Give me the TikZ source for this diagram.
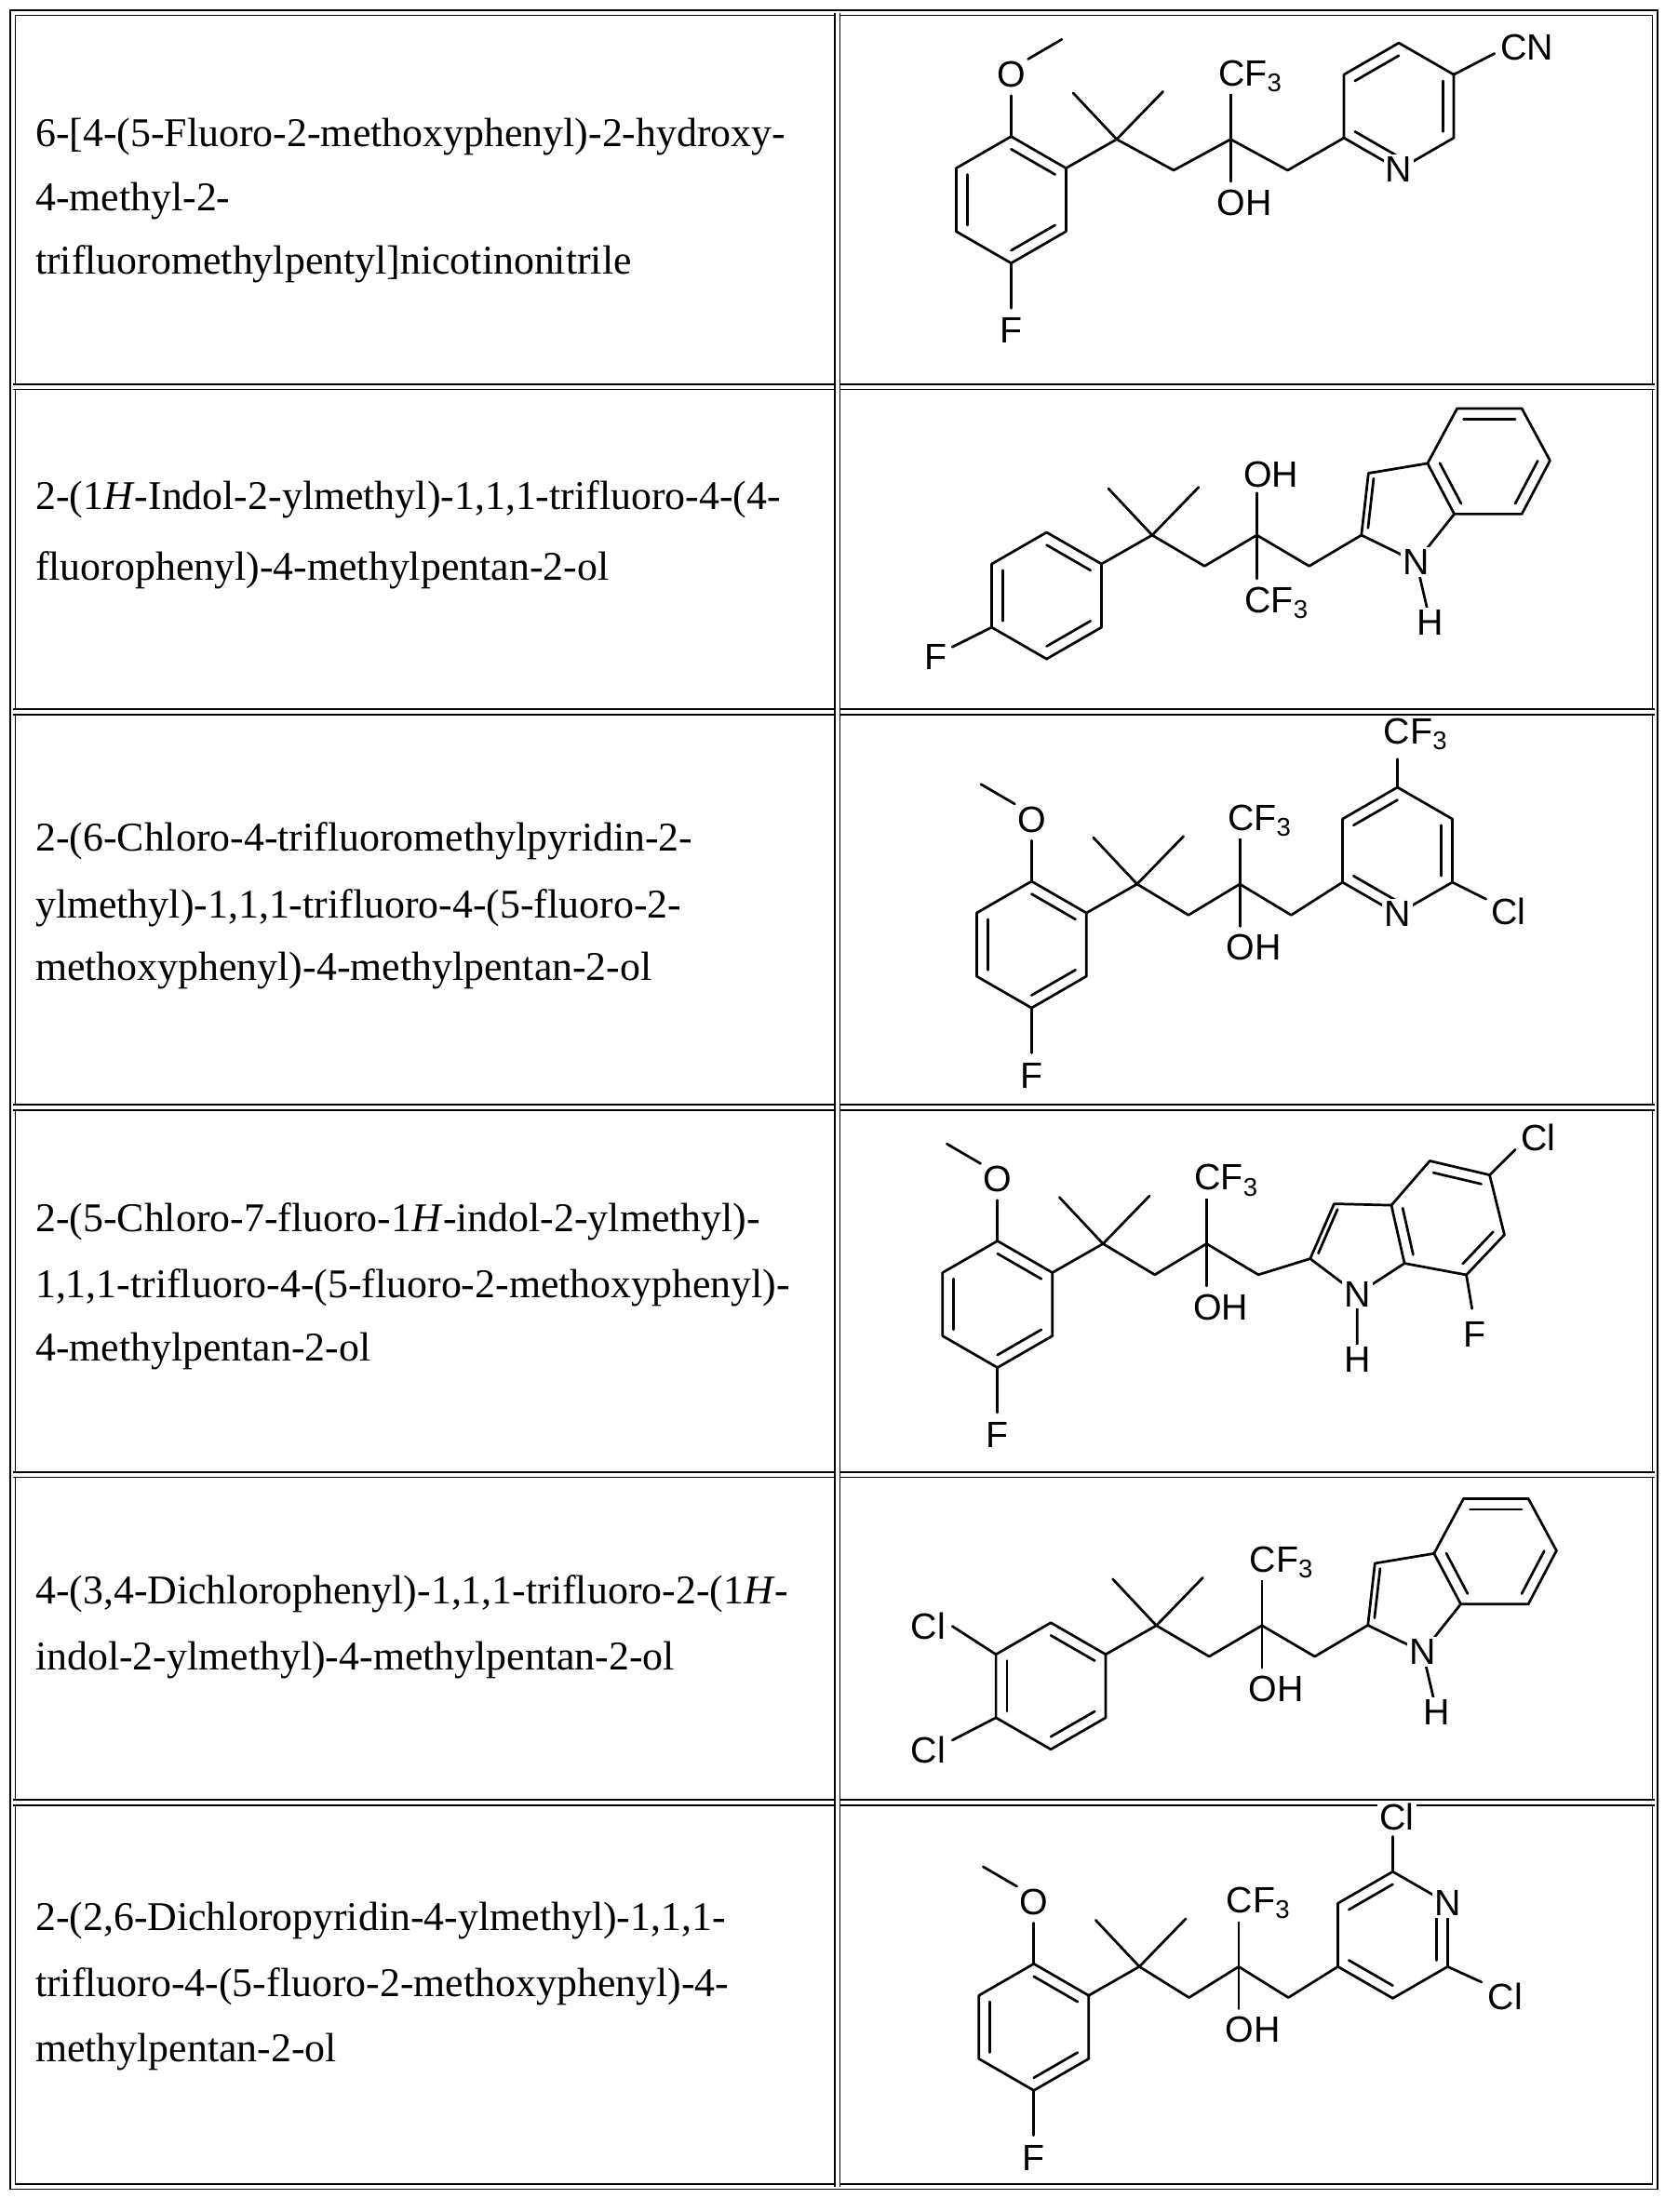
\documentclass[tikz,border=0pt]{standalone}
\usepackage{fontspec}
\setmainfont{Liberation Serif}
\newfontfamily\chemfont{Liberation Sans}
\usetikzlibrary{calc}
\newcommand\hexa[2]{%
 \coordinate (#11) at ($(#2)+(0,-45)$);
 \coordinate (#12) at ($(#2)+(39,-22.5)$);
 \coordinate (#13) at ($(#2)+(39,22.5)$);
 \coordinate (#14) at ($(#2)+(0,45)$);
 \coordinate (#15) at ($(#2)+(-39,22.5)$);
 \coordinate (#16) at ($(#2)+(-39,-22.5)$);}
\newcommand\inner[3]{\draw[bond] ($(#1)!.2!(#3)$)--($(#2)!.2!(#3)$);}
\newcommand\core[5]{%
 \coordinate (q) at (#1,#2);
 \coordinate (m1) at ($(q)+(-31,-33)$);
 \coordinate (m2) at ($(q)+(33,-34)$);
 \coordinate (a) at ($(q)+(#3,22)$);
 \coordinate (c) at ($(q)+(2*#3,0)$);
 \coordinate (b) at ($(q)+(3*#3,22)$);
 \coordinate (P) at ($(q)+(-75,43)$);
 \hexa{P}{P}
 \draw[bond] (P1)--(P2)--(P3)--(P4)--(P5)--(P6)--cycle;
 \inner{P1}{P2}{P}\inner{P5}{P6}{P}\inner{P3}{P4}{P}
 \draw[bond] (P2)--(q)--(a)--(c)--(b)--(t) (m1)--(q)--(m2);
 \ifnum#4=1
  \draw[bond] (c)--($(c)+(0,-33)$) (c)--($(c)+(0,30)$);
  \node[lab] (cf#5) at ($(c)+(14,-45)$) {CF\textsubscript{3}};
  \node[lab] (oh#5) at ($(c)+(10,45)$) {OH};
 \else
  \draw[bond] (c)--($(c)+(0,-30)$) (c)--($(c)+(0,31)$);
  \node[lab] (oh#5) at ($(c)+(10,-43)$) {OH};
  \node[lab] (cf#5) at ($(c)+(14,48)$) {CF\textsubscript{3}};
 \fi}
\newcommand\ome[2]{%
 \draw[bond] (P1)--($(P1)+(0,-29)$);
 \node[lab] (o#1) at ($(P1)+(0,-44)$) {O};
 \draw[bond] ($(o#1)+(#2*12,-11)$)--($(o#1)+(#2*36,-25)$);}
\newcommand\pfl[1]{\draw[bond] (P4)--($(P4)+(0,32)$); \node[lab] (f#1) at ($(P4)+(0,48)$) {F};}
\newcommand\indoleA[1]{%
 \coordinate (i3) at ($(t)+(5,-44)$); \coordinate (i3a) at ($(t)+(47,-51)$);
 \coordinate (i7a) at ($(t)+(66,-15)$); \coordinate (iN) at ($(t)+(39,19)$);
 \coordinate (i4) at ($(t)+(68,-90)$); \coordinate (i5) at ($(t)+(114,-90)$);
 \coordinate (i6) at ($(t)+(134,-53)$); \coordinate (i7) at ($(t)+(114,-15)$);
 \coordinate (iH) at ($(t)+(49,62)$);}
\begin{document}
\begin{tikzpicture}[x=1pt,y=-1pt,
 bond/.style={line width=1.8pt,line join=round,line cap=round},
 lab/.style={font=\chemfont\fontsize{26}{26}\selectfont,inner sep=1.5pt,fill=white},
 nm/.style={font=\fontsize{29}{34}\selectfont,anchor=west,inner sep=0pt},
 rule/.style={double,double distance=2.6pt,line width=1.1pt}]
\useasboundingbox (0,0) rectangle (1183,1572);
\fill[white] (0,0) rectangle (1183,1572);
% table
\draw[rule] (9,9) rectangle (1176,1554);
\foreach \yy in {275,506,787,1048,1281} \draw[rule] (9,\yy)--(1176,\yy);
\draw[rule] (595,9)--(595,1554);
% names
\node[nm] (n1a) at (25,97) {6-[4-(5-Fluoro-2-methoxyphenyl)-2-hydroxy-};
\node[nm] (n1b) at (25,143) {4-methyl-2-};
\node[nm] (n1c) at (25,188) {trifluoromethylpentyl]nicotinonitrile};
\node[nm] (n2a) at (25,355) {2-(1\textit{H}-Indol-2-ylmethyl)-1,1,1-trifluoro-4-(4-};
\node[nm] (n2b) at (25,405) {fluorophenyl)-4-methylpentan-2-ol};
\node[nm] (n3a) at (25,598) {2-(6-Chloro-4-trifluoromethylpyridin-2-};
\node[nm] (n3b) at (25,645) {ylmethyl)-1,1,1-trifluoro-4-(5-fluoro-2-};
\node[nm] (n3c) at (25,690) {methoxyphenyl)-4-methylpentan-2-ol};
\node[nm] (n4a) at (25,868) {2-(5-Chloro-7-fluoro-1\textit{H}-indol-2-ylmethyl)-};
\node[nm] (n4b) at (25,915) {1,1,1-trifluoro-4-(5-fluoro-2-methoxyphenyl)-};
\node[nm] (n4c) at (25,960) {4-methylpentan-2-ol};
\node[nm] (n5a) at (25,1133) {4-(3,4-Dichlorophenyl)-1,1,1-trifluoro-2-(1\textit{H}-};
\node[nm] (n5b) at (25,1180) {indol-2-ylmethyl)-4-methylpentan-2-ol};
\node[nm] (n6a) at (25,1365) {2-(2,6-Dichloropyridin-4-ylmethyl)-1,1,1-};
\node[nm] (n6b) at (25,1412) {trifluoro-4-(5-fluoro-2-methoxyphenyl)-4-};
\node[nm] (n6c) at (25,1458) {methylpentan-2-ol};
% ---------- row 1
\coordinate (t) at (955,98);
\core{793.5}{99}{40.5}{1}{1}
\ome{1}{1}\pfl{1}
\coordinate (Q) at ($(t)+(39,-22.5)$); \hexa{Q}{Q}
\draw[bond] (Q1)--(Q2)--(Q3)--(Q4)--(Q5)--(Q6)--cycle;
\inner{Q6}{Q1}{Q}\inner{Q2}{Q3}{Q}\inner{Q5}{Q4}{Q}
\draw[bond] (Q2)--($(Q2)+(29,-15)$);
\node[lab] (nn1) at (Q4) {N};
\node[lab] (cn1) at ($(Q2)+(52,-19)$) {CN};
% ---------- row 2
\coordinate (t) at (967.4,380.3);
\core{818.7}{380.3}{37.2}{0}{2}
\draw[bond] (P5)--($(P5)+(-28,14)$);
\node[lab] (f2) at ($(P5)+(-40,21)$) {F};
\indoleA{2}
\draw[bond] (t)--(i3)--(i3a)--(i7a)--(iN)--cycle (i3a)--(i4)--(i5)--(i6)--(i7)--(i7a) (iN)--(iH);
\coordinate (fc) at ($(t)!.5!(i3a)$); \coordinate (bc) at ($(i3a)!.5!(i6)$);
\inner{t}{i3}{fc}\inner{i3a}{i7a}{bc}\inner{i4}{i5}{bc}\inner{i6}{i7}{bc}
\node[lab] (nn2) at (iN) {N}; \node[lab] (h2) at (iH) {H};
% ---------- row 3
\coordinate (t) at (954,627);
\core{808}{628.3}{36.5}{1}{3}
\ome{3}{-1}\pfl{3}
\coordinate (Q) at ($(t)+(39,-22.5)$); \hexa{Q}{Q}
\draw[bond] (Q1)--(Q2)--(Q3)--(Q4)--(Q5)--(Q6)--cycle;
\inner{Q6}{Q1}{Q}\inner{Q2}{Q3}{Q}\inner{Q5}{Q4}{Q}
\draw[bond] (Q3)--($(Q3)+(24,12)$) (Q1)--($(Q1)+(0,-20)$);
\node[lab] (nn3) at (Q4) {N};
\node[lab] (cl3) at ($(Q3)+(40,21)$) {Cl};
\node[lab] (cfb3) at ($(Q1)+(13,-38)$) {CF\textsubscript{3}};
% ---------- row 4
\coordinate (t) at (931,894.5);
\core{783.8}{883.9}{36.8}{1}{4}
\ome{4}{-1}\pfl{4}
\coordinate (i3) at ($(t)+(17,-39)$); \coordinate (i3a) at ($(t)+(57.7,-38)$);
\coordinate (i7a) at ($(t)+(67,3.3)$); \coordinate (iN) at ($(t)+(33.4,25.2)$);
\coordinate (iH) at ($(t)+(33.4,71.4)$);
\coordinate (i4) at ($(t)+(85,-69.5)$); \coordinate (i5) at ($(t)+(127.5,-59.5)$);
\coordinate (i6) at ($(t)+(138,-17)$); \coordinate (i7) at ($(t)+(111,11.5)$);
\draw[bond] (t)--(i3)--(i3a)--(i7a)--(iN)--cycle (i3a)--(i4)--(i5)--(i6)--(i7)--(i7a) (iN)--(iH);
\draw[bond] (i5)--($(t)+(145.7,-77.5)$) (i7)--($(t)+(115,35.5)$);
\coordinate (fc) at ($(t)!.5!(i3a)$); \coordinate (bc) at ($(i3a)!.5!(i6)$);
\inner{t}{i3}{fc}\inner{i3a}{i7a}{bc}\inner{i4}{i5}{bc}\inner{i6}{i7}{bc}
\node[lab] (nn4) at (iN) {N}; \node[lab] (h4) at (iH) {H};
\node[lab] (cl4) at ($(t)+(162,-86)$) {Cl};
\node[lab] (fi4) at ($(t)+(117,54)$) {F};
% ---------- row 5
\coordinate (t) at (972,1155);
\core{821.7}{1155.2}{37.5}{1}{5}
\draw[bond] (P6)--($(P6)+(-31,-20)$) (P5)--($(P5)+(-31,16)$);
\node[lab] (cla5) at ($(P6)+(-48,-20)$) {Cl};
\node[lab] (clb5) at ($(P5)+(-48,23)$) {Cl};
\indoleA{5}
\draw[bond] (t)--(i3)--(i3a)--(i7a)--(iN)--cycle (i3a)--(i4)--(i5)--(i6)--(i7)--(i7a) (iN)--(iH);
\coordinate (fc) at ($(t)!.5!(i3a)$); \coordinate (bc) at ($(i3a)!.5!(i6)$);
\inner{t}{i3}{fc}\inner{i3a}{i7a}{bc}\inner{i4}{i5}{bc}\inner{i6}{i7}{bc}
\node[lab] (nn5) at (iN) {N}; \node[lab] (h5) at (iH) {H};
% ---------- row 6
\coordinate (t) at (950.7,1397.6);
\core{809.6}{1397.6}{35.3}{1}{6}
\ome{6}{-1}\pfl{6}
\coordinate (Q) at ($(t)+(39,-22.5)$); \hexa{Q}{Q}
\draw[bond] (Q1)--(Q2)--(Q3)--(Q4)--(Q5)--(Q6)--cycle;
\inner{Q6}{Q1}{Q}\inner{Q2}{Q3}{Q}\inner{Q5}{Q4}{Q}
\draw[bond] (Q1)--($(Q1)+(0,-25)$) (Q3)--($(Q3)+(24,11)$);
\node[lab] (nn6) at (Q2) {N};
\node[lab] (cla6) at ($(Q1)+(3,-39)$) {Cl};
\node[lab] (clb6) at ($(Q3)+(41,21)$) {Cl};
\end{tikzpicture}
\end{document}
